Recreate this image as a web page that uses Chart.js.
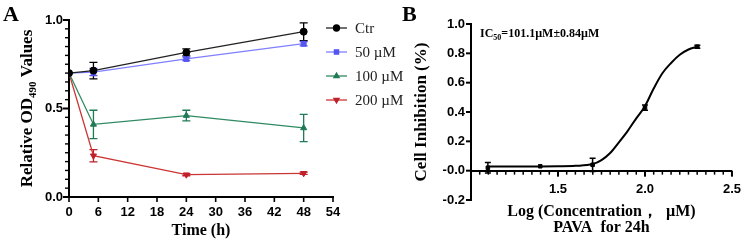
<!DOCTYPE html>
<html><head><meta charset="utf-8">
<script src="https://cdn.jsdelivr.net/npm/chart.js@4.4.1/dist/chart.umd.min.js"></script>
<style>
html,body{margin:0;padding:0;background:#fff;width:747px;height:243px;overflow:hidden}
#ca{position:absolute;left:0;top:0}
#cb{position:absolute;left:390px;top:0}
</style></head><body>
<canvas id="ca" width="420" height="243"></canvas>
<canvas id="cb" width="357" height="243"></canvas>
<script>
// ---------- Panel A data ----------
const timeHours = [0, 5, 24, 48];
const ctrMean = [0.70, 0.714, 0.817, 0.934];
const ctrSem = [0, 0.047, 0.02, 0.05];
const dose50Mean = [0.70, 0.706, 0.78, 0.866];
const dose50Sem = [0, 0.02, 0.01, 0.012];
const dose100Mean = [0.70, 0.41, 0.46, 0.39];
const dose100Sem = [0, 0.08, 0.03, 0.077];
const dose200Mean = [0.70, 0.233, 0.126, 0.134];
const dose200Sem = [0, 0.035, 0.006, 0.006];
const seriesLabels = ['Ctr', '50 µM', '100 µM', '200 µM'];
const timeTickStep = 6;
const odTickStep = 0.05;

// ---------- Panel B data ----------
const logConc = [1.097, 1.398, 1.699, 2.0, 2.301];
const inhibitionMean = [0.02, 0.03, 0.04, 0.43, 0.845];
const inhibitionSem = [0.036, 0, 0.045, 0.018, 0.01];
const fitX = [1.10, 1.20, 1.30, 1.40, 1.50, 1.60, 1.70, 1.75, 1.80, 1.85, 1.90, 1.95, 2.00, 2.05, 2.10, 2.15, 2.20, 2.25, 2.30];
const fitY = [0.028, 0.028, 0.029, 0.029, 0.030, 0.033, 0.045, 0.072, 0.12, 0.193, 0.27, 0.357, 0.44, 0.56, 0.664, 0.734, 0.79, 0.826, 0.845];
const inhibitionTickStep = 0.2;
const logTickStep = 0.05;

const SERIF = '"Liberation Serif", "Times New Roman", serif';
const SANS = '"Liberation Sans", Arial, sans-serif';
const NOTICK = 'rgba(0,0,0,0)';

function pts(xs, ys) { return xs.map((x, i) => ({x: x, y: ys[i]})); }
function isMult(v, m) { const r = v / m; return Math.abs(r - Math.round(r)) < 1e-6; }

function drawParts(ctx, parts, x, y, rot, center) {
  ctx.save();
  ctx.translate(x, y);
  ctx.rotate(rot);
  let total = 0;
  parts.forEach(p => { ctx.font = p.font; total += ctx.measureText(p.t).width; });
  let cx = center ? -total / 2 : 0;
  ctx.textBaseline = 'alphabetic';
  ctx.textAlign = 'left';
  ctx.fillStyle = '#000';
  parts.forEach(p => { ctx.font = p.font; ctx.fillText(p.t, cx, p.dy || 0); cx += ctx.measureText(p.t).width; });
  ctx.restore();
}

const errorBars = {
  id: 'errorBars',
  beforeDatasetsDraw(chart) {
    const ctx = chart.ctx;
    const xs = chart.scales.x, ys = chart.scales.y;
    chart.data.datasets.forEach(ds => {
      if (!ds.errors) return;
      ctx.save();
      ctx.strokeStyle = ds.errColor || ds.borderColor;
      ctx.lineWidth = ds.errWidth || 1.3;
      ds.data.forEach((p, i) => {
        const e = ds.errors[i];
        if (!e) return;
        const px = xs.getPixelForValue(p.x);
        const y1 = ys.getPixelForValue(p.y + e), y2 = ys.getPixelForValue(p.y - e);
        const cw = ds.capHalf || 3.5;
        ctx.beginPath();
        ctx.moveTo(px, y1); ctx.lineTo(px, y2);
        ctx.moveTo(px - cw, y1); ctx.lineTo(px + cw, y1);
        ctx.moveTo(px - cw, y2); ctx.lineTo(px + cw, y2);
        ctx.stroke();
      });
      ctx.restore();
    });
  }
};

// tick-mark settings per chart, keyed by scale id
const tickCfgA = {
  x: {step: timeTickStep, major: 6, majorLen: 5, minorLen: 5, majorWidth: 1.6, minorWidth: 1.6},
  y: {step: odTickStep, major: 0.5, majorLen: 6, minorLen: 4, majorWidth: 2, minorWidth: 1.4}
};
const tickCfgB = {
  x: {step: logTickStep, atY: 0, major: 0.5, majorLen: 6, minorLen: 4, majorWidth: 2, minorWidth: 1.5},
  y: {step: inhibitionTickStep, major: 0.2, majorLen: 5, minorLen: 5, majorWidth: 2, minorWidth: 2}
};

function makeTickPlugin(cfgs) {
  return {
    id: 'tickMarks',
    afterDraw(chart) {
      const ctx = chart.ctx;
      ctx.save();
      ctx.strokeStyle = '#000';
      Object.keys(cfgs).forEach(id => {
        const cfg = cfgs[id];
        const s = chart.scales[id];
        if (!s) return;
        const horiz = s.isHorizontal();
        const axisPos = horiz ? ((cfg.atY !== undefined) ? chart.scales.y.getPixelForValue(cfg.atY) : chart.chartArea.bottom) : chart.chartArea.left;
        const n = Math.round((s.max - s.min) / cfg.step);
        for (let i = 0; i <= n; i++) {
          const v = s.min + i * cfg.step;
          const p = s.getPixelForValue(v);
          const major = isMult(v, cfg.major);
          ctx.lineWidth = major ? cfg.majorWidth : cfg.minorWidth;
          const len = major ? cfg.majorLen : cfg.minorLen;
          ctx.beginPath();
          if (horiz) { ctx.moveTo(p, axisPos); ctx.lineTo(p, axisPos + len); }
          else { ctx.moveTo(axisPos, p); ctx.lineTo(axisPos - len, p); }
          ctx.stroke();
        }
      });
      ctx.restore();
    }
  };
}

const decorA = {
  id: 'decorA',
  afterDraw(chart) {
    const ctx = chart.ctx;
    ctx.save();
    ctx.font = 'bold 22px ' + SERIF;
    ctx.fillStyle = '#000';
    ctx.textBaseline = 'alphabetic';
    ctx.fillText('A', 3, 21);
    ctx.restore();
    drawParts(ctx, [
      {t: 'Relative OD', font: 'bold 17px ' + SERIF},
      {t: '490', font: 'bold 11px ' + SERIF, dy: 4},
      {t: ' Values', font: 'bold 17px ' + SERIF}
    ], 32, (chart.chartArea.top + chart.chartArea.bottom) / 2, -Math.PI / 2, true);
    chart.data.datasets.forEach((ds, i) => {
      const y = 28 + i * 24;
      ctx.save();
      ctx.strokeStyle = ds.borderColor;
      ctx.lineWidth = ds.borderWidth;
      ctx.beginPath(); ctx.moveTo(326, y); ctx.lineTo(347, y); ctx.stroke();
      ctx.fillStyle = ds.pointBackgroundColor;
      ctx.strokeStyle = ds.pointBorderColor;
      Chart.helpers.drawPoint(ctx, {pointStyle: ds.pointStyle, radius: ds.pointRadius - 0.5, rotation: ds.pointRotation || 0, borderWidth: 1}, 336.5, y);
      ctx.fillStyle = '#222';
      ctx.font = '15px ' + SERIF;
      ctx.textBaseline = 'middle';
      ctx.textAlign = 'left';
      ctx.fillText(ds.label, 355, y + 1);
      ctx.restore();
    });
  }
};

const decorB = {
  id: 'decorB',
  afterDraw(chart) {
    const ctx = chart.ctx;
    ctx.save();
    ctx.font = 'bold 22px ' + SERIF;
    ctx.fillStyle = '#000';
    ctx.textBaseline = 'alphabetic';
    ctx.fillText('B', 12, 21);
    ctx.restore();
    drawParts(ctx, [
      {t: 'IC', font: 'bold 12px ' + SERIF},
      {t: '50', font: 'bold 8px ' + SERIF, dy: 3},
      {t: '=101.1µM±0.84µM', font: 'bold 12px ' + SERIF}
    ], 90, 37, 0, false);
  }
};

function series(label, xs, ys, errs, color, lineColor, style, radius, rot) {
  return {
    label: label, data: pts(xs, ys), errors: errs,
    borderColor: lineColor, borderWidth: 1.3, errColor: color, capHalf: 4,
    pointStyle: style, pointRadius: radius, pointRotation: rot || 0,
    pointBackgroundColor: color, pointBorderColor: color, pointBorderWidth: 1,
    fill: false, tension: 0
  };
}

new Chart(document.getElementById('ca'), {
  type: 'line',
  data: {datasets: [
    series(seriesLabels[0], timeHours, ctrMean, ctrSem, '#000000', '#222222', 'circle', 3.5),
    series(seriesLabels[1], timeHours, dose50Mean, dose50Sem, '#5555f0', '#7f7fff', 'rect', 3.5),
    series(seriesLabels[2], timeHours, dose100Mean, dose100Sem, '#1f7a55', '#2f8a62', 'triangle', 3.5),
    series(seriesLabels[3], timeHours, dose200Mean, dose200Sem, '#c0202a', '#cc3535', 'triangle', 3.5, 180)
  ]},
  options: {
    responsive: false, animation: false, devicePixelRatio: 1,
    layout: {padding: {left: 0, right: 87, top: 20, bottom: 0}},
    plugins: {legend: {display: false}, tooltip: {enabled: false}},
    scales: {
      x: {
        type: 'linear', min: 0, max: 54,
        afterFit(s) { s.height = 46; },
        ticks: {stepSize: timeTickStep, color: '#000', font: {family: SANS, size: 13, weight: 'bold'}, padding: 3, autoSkip: false, maxRotation: 0},
        grid: {drawOnChartArea: false, drawTicks: true, tickLength: 5, tickColor: NOTICK},
        border: {display: true, color: '#000', width: 2},
        title: {display: true, text: 'Time (h)', color: '#000', font: {family: SERIF, size: 16, weight: 'bold'}, padding: {top: 0, bottom: 3}}
      },
      y: {
        type: 'linear', min: 0, max: 1,
        afterFit(s) { s.width = 69; },
        ticks: {stepSize: 0.5, color: '#000', font: {family: SANS, size: 13, weight: 'bold'}, padding: 1,
          callback: v => v.toFixed(1)},
        grid: {drawOnChartArea: false, drawTicks: true, tickLength: 5, tickColor: NOTICK},
        border: {display: true, color: '#000', width: 2}
      }
    }
  },
  plugins: [errorBars, makeTickPlugin(tickCfgA), decorA]
});

new Chart(document.getElementById('cb'), {
  type: 'line',
  data: {datasets: [
    {label: 'Fit', data: pts(fitX, fitY), borderColor: '#000', borderWidth: 2, pointRadius: 0, cubicInterpolationMode: 'monotone', fill: false},
    {label: 'PAVA 24h', data: pts(logConc, inhibitionMean), errors: inhibitionSem, errColor: '#000', errWidth: 1.5, capHalf: 3,
      showLine: false, borderColor: '#000', pointStyle: 'rect', pointRadius: 2.5, pointBackgroundColor: '#000', pointBorderColor: '#000'}
  ]},
  options: {
    responsive: false, animation: false, devicePixelRatio: 1,
    layout: {padding: {left: 0, right: 11, top: 24, bottom: 0}},
    plugins: {legend: {display: false}, tooltip: {enabled: false}},
    scales: {
      x: {
        type: 'linear', min: 1, max: 2.5, position: {y: 0},
        ticks: {stepSize: 0.5, autoSkip: false, maxRotation: 0, color: '#000', font: {family: SANS, size: 13, weight: 'bold'}, padding: 6,
          callback: v => Math.abs(v - 1) > 1e-6 ? v.toFixed(1) : ''},
        grid: {drawOnChartArea: false, drawTicks: true, tickLength: 5, tickColor: NOTICK},
        border: {display: true, color: '#000', width: 2}
      },
      x2: {
        type: 'linear', min: 1, max: 2.5, position: 'bottom',
        afterFit(s) { s.height = 43; },
        ticks: {display: false}, grid: {display: false}, border: {display: false},
        title: {display: true, text: ['Log (Concentration，  µM)', 'PAVA  for 24h'], color: '#000',
          font: {family: SERIF, size: 16, weight: 'bold', lineHeight: 1.0}, padding: {top: 0, bottom: 7}}
      },
      y: {
        type: 'linear', min: -0.2, max: 1.0,
        afterFit(s) { s.width = 81; },
        ticks: {stepSize: inhibitionTickStep, color: '#000', font: {family: SANS, size: 13, weight: 'bold'}, padding: 1,
          callback: v => v.toFixed(1)},
        grid: {drawOnChartArea: false, drawTicks: true, tickLength: 5, tickColor: NOTICK},
        border: {display: true, color: '#000', width: 2},
        title: {display: true, text: 'Cell Inhibition (%)', color: '#000', font: {family: SERIF, size: 17, weight: 'bold'}, padding: {top: 21, bottom: 0}}
      }
    }
  },
  plugins: [errorBars, makeTickPlugin(tickCfgB), decorB]
});
</script>
</body></html>
